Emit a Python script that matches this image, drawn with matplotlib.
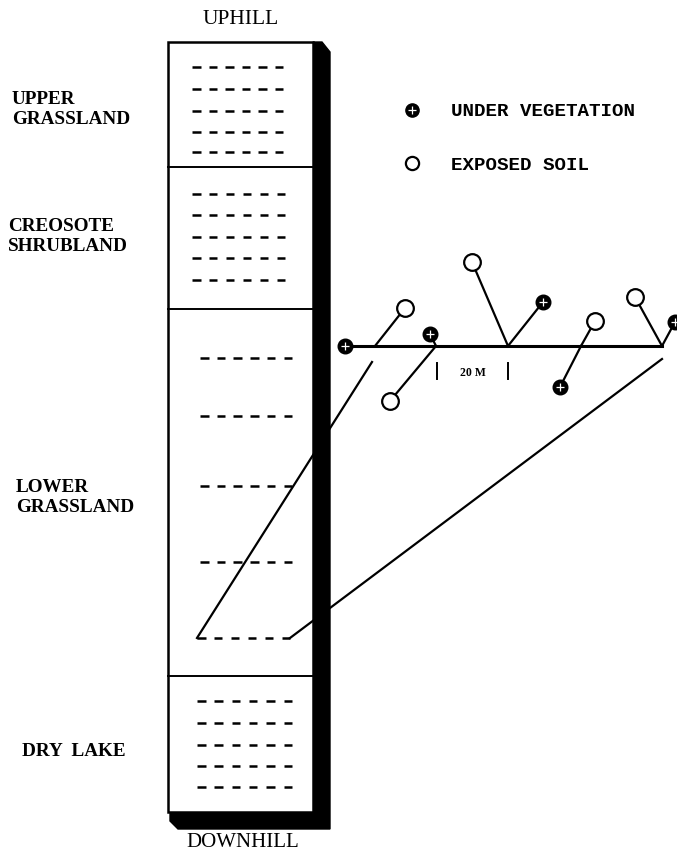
import numpy as np
import matplotlib
matplotlib.use("Agg")
import matplotlib.pyplot as plt
from matplotlib.collections import LineCollection
from matplotlib.patches import Polygon, Rectangle

# zones down the slope (label lines, label y centre)
zone_labels = [["UPPER", "GRASSLAND"], ["CREOSOTE", "SHRUBLAND"],
               ["LOWER", "GRASSLAND"], ["DRY  LAKE"]]
zone_label_x = [12, 8, 16, 22]
zone_label_y = [[99, 119], [226, 246], [488, 508], [751]]
zone_bounds = [168, 310, 677]          # dividing lines inside the column

# sampling rows (dashed lines) per zone
row_y = [[68, 90, 112, 133, 153],
         [195, 216, 238, 259, 281],
         [359, 417, 487, 563],
         [702, 724, 746, 767, 788]]
row_x = [(192, 283), (192, 285), (200, 292), (197, 292)]
detail_row_y = 639
detail_row_x = (197, 290)

# transect detail
transect_y = 347
transect_x = (345, 662)
node_x = [375, 436, 508, 581, 662]
soil_x = [405, 390, 472, 595, 635]
soil_y = [309, 402, 263, 322, 298]
soil_node = [0, 1, 2, 3, 4]
veg_x = [430, 543, 560, 675]
veg_y = [335, 303, 388, 323]
veg_node = [1, 2, 3, 4]
scale_ticks = [437, 508]
scale_label = "20 M"

fig = plt.figure(figsize=(6.77, 8.53), dpi=100)
ax = fig.add_axes([0, 0, 1, 1])
ax.set_xlim(0, 677)
ax.set_ylim(853, 0)
ax.axis("off")

serif = "Liberation Serif"
mono = "Liberation Mono"

# column with drop shadow
L, R, T, B = 168, 313, 43, 813
shadow = Polygon([(R, T), (R + 9, T), (R + 17, T + 10), (R + 17, B + 17),
                  (L + 10, B + 17), (L + 2, B + 9), (L + 2, B), (R, B)],
                 closed=True, fc="black", ec="black", zorder=1)
ax.add_patch(shadow)
ax.add_patch(Rectangle((L, T), R - L, B - T, fc="white", ec="black", lw=1.8, zorder=2))
for yb in zone_bounds:
    ax.plot([L, R], [yb, yb], color="black", lw=1.4, zorder=3)


def dash_row(x0, x1, y, n=6, dl=8.5):
    starts = np.linspace(x0, x1 - dl, n)
    return [[(s, y), (s + dl, y)] for s in starts]


segs = []
for ys, (x0, x1) in zip(row_y, row_x):
    for y in ys:
        segs += dash_row(x0, x1, y)
segs += dash_row(detail_row_x[0], detail_row_x[1], detail_row_y)
ax.add_collection(LineCollection(segs, colors="black", linewidths=1.8, zorder=3))

# zone labels
for lines, x, ys in zip(zone_labels, zone_label_x, zone_label_y):
    for s, y in zip(lines, ys):
        ax.text(x, y, s, family=serif, weight="bold", fontsize=13.8,
                ha="left", va="center")

ax.text((L + R) / 2, 19, "UPHILL", family=serif, fontsize=15.5, ha="center", va="center")
ax.text((L + R) / 2 + 2, 843, "DOWNHILL", family=serif, fontsize=15, ha="center", va="center")

# connection lines from the detail row to the transect
ax.plot([detail_row_x[0], 372], [detail_row_y, 363], color="black", lw=1.6, zorder=4)
ax.plot([detail_row_x[1], 662], [detail_row_y, 360], color="black", lw=1.6, zorder=4)

# transect and branches
ax.plot(transect_x, [transect_y, transect_y], color="black", lw=2.2, zorder=4)
for x, y, n in zip(soil_x, soil_y, soil_node):
    ax.plot([node_x[n], x], [transect_y, y], color="black", lw=1.6, zorder=4)
for x, y, n in zip(veg_x, veg_y, veg_node):
    ax.plot([node_x[n], x], [transect_y, y], color="black", lw=1.6, zorder=4)


def veg_marker(xs, ys, ms):
    ax.plot(xs, ys, "o", ms=ms, mfc="black", mec="black", zorder=6, clip_on=False)
    ax.plot(xs, ys, "+", ms=ms * 0.55, mec="white", mew=0.9, zorder=7, clip_on=False)


ax.plot(soil_x, soil_y, "o", ms=12, mfc="white", mec="black", mew=1.6, zorder=6)
veg_marker([transect_x[0]] + veg_x, [transect_y] + veg_y, 10.5)

# scale bar
for xt in scale_ticks:
    ax.plot([xt, xt], [364, 380], color="black", lw=1.4, zorder=4)
ax.text(sum(scale_ticks) / 2, 373, scale_label, family=serif, weight="bold",
        fontsize=8.5, ha="center", va="center")

# legend
veg_marker([412], [111], 9.5)
ax.plot([412], [164], "o", ms=9.5, mfc="white", mec="black", mew=1.6, zorder=6)
ax.text(451, 111, "UNDER VEGETATION", family=mono, weight="bold", fontsize=13.8,
        ha="left", va="center")
ax.text(451, 165, "EXPOSED SOIL", family=mono, weight="bold", fontsize=13.8,
        ha="left", va="center")

fig.savefig("out.png", dpi=100)
